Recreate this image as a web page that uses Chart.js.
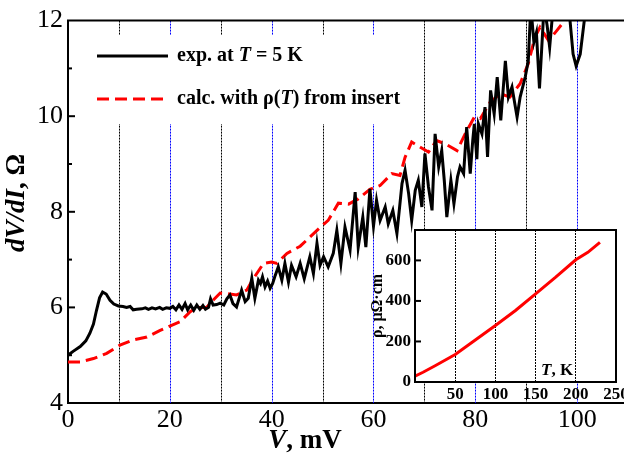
<!DOCTYPE html>
<html>
<head>
<meta charset="utf-8">
<script src="https://cdn.jsdelivr.net/npm/chart.js@4/dist/chart.umd.min.js"></script>
<style>
  body { margin: 0; background: #fff; overflow: hidden; }
  #wrap { position: relative; width: 624px; height: 456px; overflow: hidden; }
  #main { position: absolute; left: 0; top: 0; }
  #inset { position: absolute; left: 360px; top: 200px; }
</style>
</head>
<body>
<div id="wrap">
  <canvas id="main" width="624" height="456"></canvas>
  <canvas id="inset" width="300" height="210"></canvas>
</div>
<script>
// experimental dV/dI at T = 5 K
var expV = [0, 1, 2.4, 3.5, 4.3, 5.0, 5.6, 6.2, 6.8, 7.5, 8.25, 9.0, 9.9, 10.8, 11.5, 12.2, 12.8, 13.5, 14.5, 15.2,
  15.8, 16.5, 17.2, 18.0, 18.6, 19.3, 20.0, 20.6, 21.2, 21.8, 22.4, 23.0, 23.5, 24.1, 24.7, 25.3, 25.9, 26.5, 27.0, 27.6,
  28.0, 28.5, 29.2, 29.9, 30.6, 31.2, 31.8, 32.4, 33.1, 33.7, 34.1, 34.8, 35.4, 36.1, 36.7, 37.4, 37.8, 38.2, 38.7, 39.2,
  39.7, 40.2, 40.7, 41.3, 42.0, 42.6, 43.3, 43.9, 44.8, 45.6, 46.4, 47.5, 48.2, 48.9, 49.5, 50.2, 51.1, 52.1, 52.8, 53.6,
  54.4, 55.4, 56.4, 57.0, 57.9, 58.5, 59.3, 60.0, 60.6, 61.3, 62.3, 62.9, 63.8, 64.6, 65.6, 66.2, 66.9, 67.5, 68.2, 68.8,
  69.5, 70.1, 70.8, 71.5, 72.1, 72.8, 73.4, 73.9, 74.4, 75.2, 75.8, 76.5, 77.0, 77.7, 78.3, 79.0, 79.5, 79.8, 80.3, 80.6,
  81.3, 81.9, 82.4, 83.0, 83.7, 84.3, 85.0, 85.9, 86.5, 87.2, 88.2, 88.8, 89.8, 90.4, 90.9, 91.5, 92.0, 92.6, 93.5, 94.1,
  94.6, 95.3, 96.5, 98.0, 98.6, 99.2, 99.8, 100.6, 101.4, 102.0];
var expR = [5.00, 5.08, 5.18, 5.30, 5.46, 5.65, 5.94, 6.20, 6.32, 6.28, 6.15, 6.07, 6.03, 6.02, 6.00, 6.02, 5.95, 5.96, 5.97, 5.99,
  5.96, 5.99, 5.97, 6.00, 5.96, 5.99, 5.98, 6.02, 5.95, 6.05, 5.96, 6.08, 5.95, 6.05, 5.94, 6.05, 5.96, 6.04, 5.96, 6.00,
  6.18, 6.05, 6.06, 6.09, 6.05, 6.18, 6.26, 6.08, 6.01, 6.22, 6.36, 6.12, 6.19, 6.61, 6.19, 6.57, 6.50, 6.64, 6.43, 6.55,
  6.40, 6.50, 6.67, 6.85, 6.57, 6.92, 6.53, 6.88, 6.64, 6.92, 6.60, 7.06, 6.71, 7.34, 6.88, 7.06, 6.85, 7.13, 7.61, 6.92,
  7.68, 7.20, 8.41, 7.26, 7.89, 7.26, 8.48, 7.70, 8.24, 7.82, 8.10, 7.75, 8.03, 7.55, 8.59, 8.87, 8.38, 7.82, 8.45, 8.66,
  8.10, 9.22, 8.52, 8.03, 9.63, 8.94, 9.28, 8.66, 7.89, 8.66, 8.17, 8.73, 8.94, 8.80, 9.77, 8.80, 9.50, 9.84, 9.10, 9.84,
  9.63, 10.19, 9.15, 10.54, 10.05, 10.82, 9.91, 11.16, 10.40, 10.61, 9.98, 10.40, 10.82, 11.16, 12.30, 11.55, 11.75, 10.58, 12.30, 11.90,
  11.44, 12.30, 13.00, 12.60, 12.00, 11.30, 11.05, 11.30, 12.00, 12.60];

// calculated with rho(T) from insert
var calcV = [0, 2.4, 5.0, 7.6, 10.2, 12.8, 15.5, 18.1, 20.0, 22.0, 24.0, 25.3, 27.2, 28.5, 29.9, 31.2, 33.1, 35.1, 36.4, 38.4,
  40.0, 41.0, 43.0, 45.6, 47.5, 49.5, 51.1, 53.1, 55.1, 57.0, 59.3, 61.3, 63.6, 65.2, 66.2, 67.5, 69.2, 70.8, 72.4, 74.1,
  76.4, 78.0, 79.8, 81.0, 82.9, 84.9, 86.8, 88.8, 90.4, 91.7, 92.7, 94.4, 96.0, 98.3];
var calcR = [4.86, 4.86, 4.93, 5.04, 5.21, 5.32, 5.38, 5.52, 5.61, 5.70, 5.91, 6.00, 6.00, 6.15, 6.30, 6.29, 6.26, 6.36, 6.60, 6.92,
  6.95, 6.92, 7.13, 7.28, 7.47, 7.67, 7.82, 8.18, 8.16, 8.27, 8.47, 8.55, 8.80, 8.76, 9.14, 9.46, 9.35, 9.25, 9.49, 9.42,
  9.28, 9.63, 9.98, 9.95, 10.29, 10.47, 10.40, 10.68, 11.10, 11.65, 11.86, 11.58, 11.79, 12.10];

// insert: resistivity vs temperature
var insT = [0, 10, 25, 50, 75, 100, 125, 150, 175, 200, 215, 230];
var insRho = [29, 48, 80, 136, 207, 279, 353, 435, 517, 603, 640, 689];

// guide lines every 10 mV, blue at the 20s
var guideV = [10, 20, 30, 40, 50, 60, 70, 80, 90, 100];

var SERIF = '"Liberation Serif", "Times New Roman", serif';

function toPts(xs, ys) {
    return xs.map(function(x, i) { return {x: x, y: ys[i]}; });
}

// draw a run of text pieces with different fonts
function drawParts(ctx, parts, x, y, align) {
    var total = 0;
    parts.forEach(function(p) { ctx.font = p.f; total += ctx.measureText(p.t).width; });
    var cx = align === 'center' ? x - total / 2 : x;
    parts.forEach(function(p) {
        ctx.font = p.f;
        ctx.fillText(p.t, cx, y);
        cx += ctx.measureText(p.t).width;
    });
}

var mainDeco = {
    id: 'mainDeco',
    beforeDatasetsDraw: function(chart) {
        var ctx = chart.ctx;
        var a = chart.chartArea;
        var xs = chart.scales.x;
        ctx.save();
        ctx.lineWidth = 1;
        ctx.setLineDash([2, 1]);
        guideV.forEach(function(v) {
            var px = Math.round(xs.getPixelForValue(v)) + 0.5;
            ctx.strokeStyle = v % 20 === 0 ? '#0000ff' : '#000000';
            ctx.beginPath();
            ctx.moveTo(px, a.top);
            ctx.lineTo(px, a.bottom);
            ctx.stroke();
        });
        ctx.restore();
    },
    afterDraw: function(chart) {
        var ctx = chart.ctx;
        var a = chart.chartArea;
        var ys = chart.scales.y;
        ctx.save();
        ctx.strokeStyle = '#000';
        ctx.lineWidth = 2;
        ctx.beginPath();
        ctx.moveTo(a.left - 1, a.top);
        ctx.lineTo(a.right, a.top);
        ctx.stroke();
        // inward y ticks
        for (var v = 5; v < 12; v++) {
            var py = ys.getPixelForValue(v);
            ctx.beginPath();
            ctx.moveTo(a.left, py);
            ctx.lineTo(a.left + (v % 2 === 0 ? 7 : 4), py);
            ctx.stroke();
        }
        // legend
        ctx.fillStyle = '#fff';
        ctx.fillRect(76, 35, 334, 89);
        ctx.lineWidth = 3;
        ctx.strokeStyle = '#000';
        ctx.beginPath();
        ctx.moveTo(97, 56); ctx.lineTo(168, 56);
        ctx.stroke();
        ctx.strokeStyle = '#ff0000';
        ctx.setLineDash([12, 6]);
        ctx.beginPath();
        ctx.moveTo(97, 99); ctx.lineTo(168, 99);
        ctx.stroke();
        ctx.setLineDash([]);
        ctx.fillStyle = '#000';
        ctx.textBaseline = 'middle';
        ctx.textAlign = 'left';
        var f = 'bold 20px ' + SERIF, fi = 'italic bold 20px ' + SERIF;
        drawParts(ctx, [{t: 'exp. at ', f: f}, {t: 'T', f: fi}, {t: ' = 5 K', f: f}], 177, 56);
        drawParts(ctx, [{t: 'calc. with \u03c1(', f: f}, {t: 'T', f: fi}, {t: ') from insert', f: f}], 177, 99);
        // axis titles
        var tf = 'bold 27px ' + SERIF, tfi = 'italic bold 27px ' + SERIF;
        drawParts(ctx, [{t: 'V', f: tfi}, {t: ', mV', f: tf}], 305, 441, 'center');
        ctx.translate(17, 203);
        ctx.rotate(-Math.PI / 2);
        drawParts(ctx, [{t: 'dV/dI', f: tfi}, {t: ', \u03a9', f: tf}], 0, 0, 'center');
        ctx.restore();
    }
};

var mainChart = new Chart(document.getElementById('main').getContext('2d'), {
    type: 'scatter',
    data: {
        datasets: [
            {
                label: 'exp. at T = 5 K',
                data: toPts(expV, expR),
                showLine: true,
                borderColor: '#000',
                borderWidth: 3,
                pointRadius: 0,
                clip: 0
            },
            {
                label: 'calc. with rho(T) from insert',
                data: toPts(calcV, calcR),
                showLine: true,
                borderColor: '#ff0000',
                borderWidth: 3,
                borderDash: [12, 6],
                pointRadius: 0,
                clip: 0
            }
        ]
    },
    options: {
        responsive: false,
        animation: false,
        devicePixelRatio: 1,
        layout: { padding: { top: 20, left: 0, right: 0, bottom: 0 } },
        plugins: { legend: { display: false }, tooltip: { enabled: false } },
        scales: {
            x: {
                type: 'linear',
                min: 0,
                max: 109.2,
                afterFit: function(s) { s.height = 53; },
                ticks: {
                    stepSize: 20,
                    includeBounds: false,
                    autoSkip: false,
                    maxRotation: 0,
                    padding: 2,
                    color: '#000',
                    font: { family: SERIF, size: 26 }
                },
                grid: { display: false, drawTicks: false },
                border: { width: 2, color: '#000' }
            },
            y: {
                min: 4,
                max: 12,
                afterFit: function(s) { s.width = 68; },
                ticks: {
                    stepSize: 2,
                    padding: 5,
                    color: '#000',
                    font: { family: SERIF, size: 26 }
                },
                grid: { display: false, drawTicks: false },
                border: { width: 2, color: '#000' }
            }
        }
    },
    plugins: [mainDeco]
});

var insetDeco = {
    id: 'insetDeco',
    beforeDraw: function(chart) {
        var a = chart.chartArea;
        chart.ctx.save();
        chart.ctx.fillStyle = '#fff';
        chart.ctx.fillRect(a.left, a.top, a.right - a.left, a.bottom - a.top);
        chart.ctx.restore();
    },
    afterDraw: function(chart) {
        var ctx = chart.ctx;
        var a = chart.chartArea;
        var ys = chart.scales.y;
        ctx.save();
        ctx.strokeStyle = '#000';
        ctx.lineWidth = 2;
        ctx.strokeRect(a.left, a.top, a.right - a.left, a.bottom - a.top);
        [200, 400, 600].forEach(function(v) {
            var py = ys.getPixelForValue(v);
            ctx.beginPath();
            ctx.moveTo(a.left, py);
            ctx.lineTo(a.left + 6, py);
            ctx.stroke();
        });
        ctx.fillStyle = '#000';
        ctx.textBaseline = 'middle';
        var f = 'bold 17px ' + SERIF, fi = 'italic bold 17px ' + SERIF;
        drawParts(ctx, [{t: 'T', f: fi}, {t: ', K', f: f}], 181, 171);
        ctx.translate(18, 106);
        ctx.rotate(-Math.PI / 2);
        drawParts(ctx, [{t: '\u03c1, \u03bc\u03a9\u00b7cm', f: 'bold 16px ' + SERIF}], 0, 0, 'center');
        ctx.restore();
    }
};

var insetChart = new Chart(document.getElementById('inset').getContext('2d'), {
    type: 'scatter',
    data: {
        datasets: [{
            data: toPts(insT, insRho),
            showLine: true,
            borderColor: '#ff0000',
            borderWidth: 3,
            pointRadius: 0,
            clip: 0
        }]
    },
    options: {
        responsive: false,
        animation: false,
        devicePixelRatio: 1,
        layout: { padding: { top: 30, left: 0, right: 44, bottom: 0 } },
        plugins: { legend: { display: false }, tooltip: { enabled: false } },
        scales: {
            x: {
                type: 'linear',
                min: 0,
                max: 250,
                afterFit: function(s) { s.height = 28; },
                ticks: {
                    stepSize: 50,
                    autoSkip: false,
                    maxRotation: 0,
                    padding: 2,
                    color: '#000',
                    font: { family: SERIF, size: 17, weight: 'bold' },
                    callback: function(v) { return v === 0 ? '' : v; }
                },
                grid: {
                    drawTicks: false,
                    color: '#000',
                    lineWidth: function(c) { return c.index > 0 && c.index < 5 ? 1 : 0; }
                },
                border: { display: false, dash: [2, 1] }
            },
            y: {
                min: 0,
                max: 750,
                afterFit: function(s) { s.width = 55; },
                ticks: {
                    stepSize: 200,
                    includeBounds: false,
                    padding: 4,
                    color: '#000',
                    font: { family: SERIF, size: 17, weight: 'bold' }
                },
                grid: { display: false, drawTicks: false },
                border: { display: false }
            }
        }
    },
    plugins: [insetDeco]
});
</script>
</body>
</html>
